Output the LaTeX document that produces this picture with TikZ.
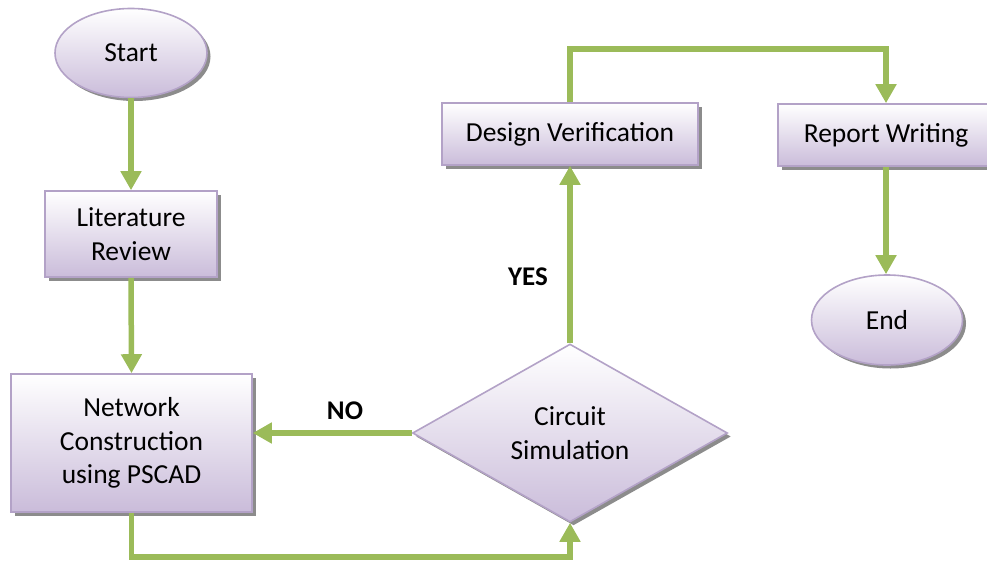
\documentclass[tikz,border=0pt]{standalone}
\usepackage{fontspec}
\setmainfont{Carlito}
\usetikzlibrary{shapes.geometric,arrows.meta,shadows}
\definecolor{bordercol}{HTML}{B3A2C7}
\definecolor{fillbot}{HTML}{CABCDA}
\definecolor{arrgreen}{HTML}{9BBB59}
\definecolor{shadowcol}{HTML}{8C8C8C}
\begin{document}
\begin{tikzpicture}[x=1pt,y=-1pt,
  shape base/.style={draw=bordercol, line width=1.6pt, top color=white, bottom color=fillbot,
    text=black, align=center, inner sep=0pt, font=\fontsize{27.5}{33.5}\selectfont,
    drop shadow={shadow xshift=3.5pt, shadow yshift=-3.5pt, fill=shadowcol, opacity=1}},
  procbox/.style={shape base, rectangle, minimum width=#1},
  termbox/.style={shape base, ellipse, minimum width=152pt, minimum height=89pt},
  decbox/.style={shape base, diamond, minimum width=315pt, minimum height=178pt},
  arr/.style={draw=arrgreen, line width=5.5pt, -{Triangle[width=20pt,length=19pt]}},
  lbl/.style={font=\fontsize{27}{30}\selectfont\bfseries, text=black, inner sep=0pt}
]
\useasboundingbox (0,0) rectangle (987,562);

\node[termbox] (start) at (131,53) {Start};
\node[procbox=172pt, minimum height=86pt] (lit) at (131,234) {Literature\\Review};
\node[procbox=241pt, minimum height=138pt] (net) at (131.5,443) {Network\\Construction\\using PSCAD};
\node[decbox] (sim) at (570,433) {Circuit\\Simulation};
\node[procbox=256pt, minimum height=62pt] (dv) at (570,134) {Design Verification};
\node[procbox=216pt, minimum height=62pt] (rw) at (886,135) {Report Writing};
\node[termbox, minimum width=151pt, minimum height=90pt] (end) at (887,320) {End};

\coordinate (bot) at (570,557);
\coordinate (top) at (700,49);

\draw[arr] (start.south) -- (lit.north);
\draw[arr] (lit.south) -- (net.north);
\draw[arr] (net.south) |- (bot) -- (sim.south);
\draw[arr] (sim.west) -- (sim.west -| net.east);
\draw[arr] (sim.north) -- (dv.south);
\draw[arr] (dv.north) |- (top) -| (rw.north);
\draw[arr] (rw.south) -- (rw.south |- end.north);

\node[lbl] (yes) at (528,277) {YES};
\node[lbl] (no) at (345,411) {NO};
\end{tikzpicture}
\end{document}
